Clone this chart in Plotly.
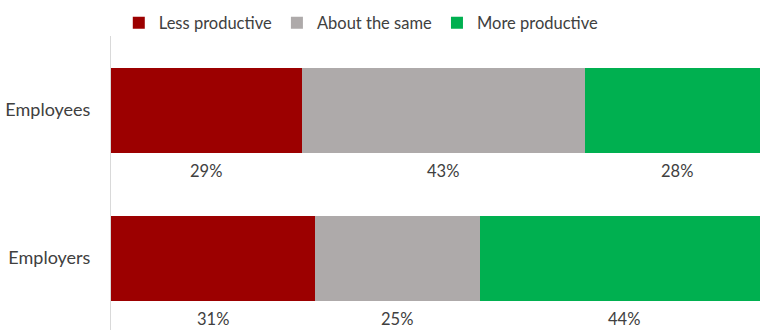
import plotly.graph_objects as go

categories = ["Employees", "Employers"]
series_names = ["Less productive", "About the same", "More productive"]
less_productive = [29, 31]
about_same = [43, 25]
more_productive = [28, 44]
colors = ["#9c0000", "#aeaaaa", "#00b050"]

series_values = [less_productive, about_same, more_productive]
ypos = [0, 1]

fig = go.Figure()
for name, vals, col in zip(series_names, series_values, colors):
    fig.add_trace(go.Bar(
        y=ypos, x=vals, name=name, orientation="h",
        marker=dict(color=col, line=dict(width=0)),
        width=0.574, hoverinfo="skip",
    ))

annotations = []
for i, y in enumerate(ypos):
    cum = 0
    for vals in series_values:
        v = vals[i]
        annotations.append(dict(
            x=cum + v / 2, y=y, xref="x", yref="y",
            text=f"{v}%", showarrow=False, yshift=-61,
            font=dict(size=16.5, color="#404040"),
        ))
        cum += v

fig.update_layout(
    width=760, height=330,
    margin=dict(l=111, r=0, t=36, b=0),
    barmode="stack",
    plot_bgcolor="white", paper_bgcolor="white",
    font=dict(family="Lato, Calibri, sans-serif", size=16, color="#404040"),
    showlegend=True,
    legend=dict(orientation="h", x=0.012, y=0.985, xanchor="left", yanchor="bottom",
                font=dict(size=16.5, color="#404040"), itemwidth=30,
                traceorder="normal", bgcolor="rgba(0,0,0,0)"),
    annotations=annotations,
    bargap=0,
)
fig.update_xaxes(range=[0, 98.6], showgrid=False, showticklabels=False, zeroline=False,
                 showline=False, fixedrange=True)
fig.update_yaxes(range=[1.486, -0.5], tickvals=ypos, ticktext=categories,
                 showgrid=False, zeroline=False, showline=True, linecolor="#d9d9d9",
                 linewidth=1, ticks="", ticklabelstandoff=16,
                 tickfont=dict(size=18, color="#404040"))

fig.write_html("out.html")
